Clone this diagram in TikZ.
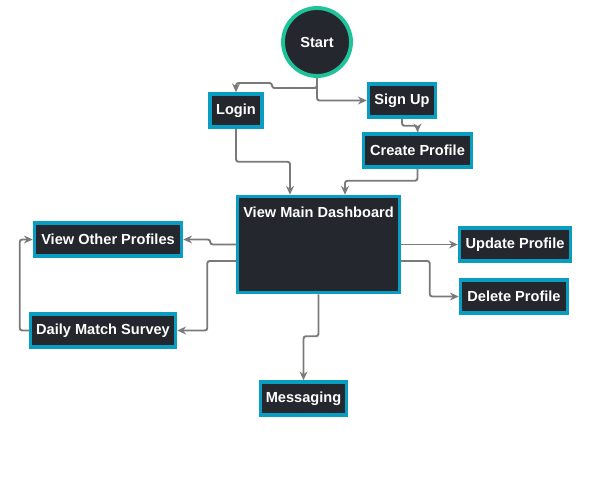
\documentclass[tikz,border=0pt]{standalone}
\usepackage{fontspec}
\setmainfont{Liberation Sans}
\usepackage{xcolor}
\usetikzlibrary{positioning,calc,arrows.meta}
\definecolor{boxfill}{HTML}{24272E}
\definecolor{boxedge}{HTML}{0A9DC2}
\definecolor{startedge}{HTML}{1FC39A}
\definecolor{linkgray}{HTML}{7A7A7A}
\begin{document}
\begin{tikzpicture}[x=0.02cm,y=-0.02cm,
		every node/.style={font=\bfseries\fontsize{8.3}{10}\selectfont,text=white,inner sep=0pt},
		box/.style={draw=boxedge,fill=boxfill,line width=2pt,minimum height=0.66cm},
		startnode/.style={circle,draw=startedge,fill=boxfill,line width=2.2pt,minimum size=1.36cm},
		link/.style={draw=linkgray,line width=1.1pt,rounded corners=1.4pt,-{Stealth[length=5pt,width=4.5pt]}}]
		\useasboundingbox (0,0) rectangle (612,490);
		\node[startnode] (start) at (317,42) {Start};
		\node[box,minimum width=1.04cm] (login) at (236,110.5) {Login};
		\node[box,minimum width=1.34cm] (signup) at (402,100.5) {Sign Up};
		\node[box,minimum width=2.16cm] (create) at (417.5,150.5) {Create Profile};
		\node[box,minimum width=3.24cm,minimum height=1.92cm] (main) at (318.5,244.5) {};
		\node[below=0.24cm of main.north] (maintext) {View Main Dashboard};
		\node[box,minimum width=2.22cm] (update) at (515,244.5) {Update Profile};
		\node[box,minimum width=2.14cm] (delete) at (514,296.5) {Delete Profile};
		\node[box,minimum width=1.72cm] (messaging) at (303.5,398.5) {Messaging};
		\node[box,minimum width=2.94cm] (others) at (108,239.5) {View Other Profiles};
		\node[box,minimum width=2.9cm] (survey) at (103,330.5) {Daily Match Survey};
		\draw[link] (start.south) |- (272,88) |- (236,83) -- (login.north);
		\draw[link] (start.south) |- (signup.west);
		\draw[link] (signup.south) -- ++(0,7) -| (create.north);
		\draw[link] (login.south) |- ($(main.north)+(-28.5,-33)$) -- ($(main.north)+(-28.5,0)$);
		\draw[link] (create.south) |- ($(main.north)+(26.5,-14)$) -- ($(main.north)+(26.5,0)$);
		\draw[link] (main.west) -| ($(others.east)+(27,0)$) -- (others.east);
		\draw[link] ($(main.west)+(0,16.5)$) -| ($(survey.east)+(30,0)$) -- (survey.east);
		\draw[link] (survey.west) -| ($(others.west)+(-13,0)$) -- (others.west);
		\draw[link] (main.east) -- (update.west);
		\draw[link] ($(main.east)+(0,16.5)$) -| ($(delete.west)+(-29,0)$) -- (delete.west);
		\draw[link] (main.south) -- ++(0,42) -| (messaging.north);
	\end{tikzpicture}
\end{document}
